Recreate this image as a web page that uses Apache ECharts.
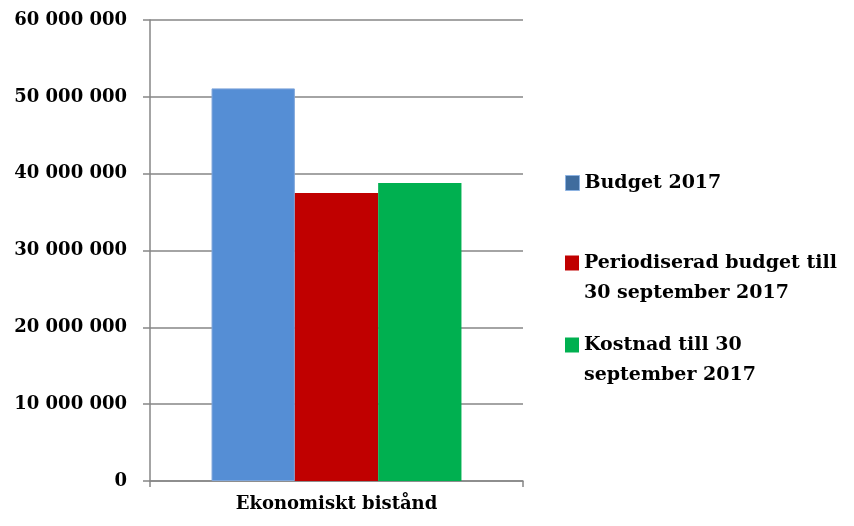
<!DOCTYPE html>
<html>
<head>
<meta charset="utf-8">
<script src="https://cdn.jsdelivr.net/npm/echarts@6/dist/echarts.min.js"></script>
<style>
html,body{margin:0;padding:0;background:#fff;}
#chart{width:854px;height:526px;}
</style>
</head>
<body>
<div id="chart"></div>
<script>
const categories = ['Ekonomiskt bistånd'];
const seriesNames = ['Budget 2017', 'Periodiserad budget till 30 september 2017', 'Kostnad till 30 september 2017'];
const legendLabels = ['Budget 2017', 'Periodiserad budget till\n30 september 2017', 'Kostnad till 30\nseptember 2017'];
const budget2017 = [51100000];
const periodiserad = [37500000];
const kostnad = [38800000];
const yTicks = { min: 0, max: 60000000, interval: 10000000 };

const FONT = 'DejaVu Serif';
const colors = ['#558ED5', '#C00000', '#00B050'];
const values = [budget2017, periodiserad, kostnad];

function fmt(v) { return String(v).replace(/\B(?=(\d{3})+(?!\d))/g, ' '); }

const legendTops = [163, 213, 295];
const legends = seriesNames.map((n, i) => ({
  orient: 'vertical',
  left: 560,
  top: legendTops[i],
  itemWidth: 14,
  itemHeight: 15,
  itemGap: 0,
  selectedMode: false,
  icon: 'rect',
  formatter: () => (i === 0 ? legendLabels[i] : '\n' + legendLabels[i]),
  textStyle: {
    fontFamily: FONT, fontWeight: 'bold', fontSize: 19, color: '#000', lineHeight: 30
  },
  data: [i === 0 ? { name: n, itemStyle: { color: '#3F6C9E', borderColor: '#8DB3E2', borderWidth: 1 } } : { name: n }]
}));

const chart = echarts.init(document.getElementById('chart'), null, { renderer: 'canvas' });
chart.setOption({
  animation: false,
  backgroundColor: '#fff',
  grid: { left: 150, right: 331, top: 20, bottom: 45, containLabel: false },
  legend: legends,
  xAxis: {
    type: 'category',
    data: categories,
    axisLine: { lineStyle: { color: '#868686', width: 1.5 } },
    axisTick: { show: true, length: 6, lineStyle: { color: '#868686', width: 1.5 } },
    axisLabel: { margin: 14, fontFamily: FONT, fontWeight: 'bold', fontSize: 18, color: '#000' }
  },
  yAxis: {
    type: 'value',
    min: yTicks.min, max: yTicks.max, interval: yTicks.interval,
    axisLine: { show: true, lineStyle: { color: '#868686', width: 1.5 } },
    axisTick: { show: true, length: 7, lineStyle: { color: '#868686', width: 1.5 } },
    splitLine: { lineStyle: { color: '#868686', width: 1.5 } },
    axisLabel: { margin: 23, fontFamily: FONT, fontWeight: 'bold', fontSize: 18, color: '#000', formatter: fmt }
  },
  series: seriesNames.map((n, i) => ({
    name: n,
    type: 'bar',
    data: values[i],
    barGap: '0%',
    barCategoryGap: '33%',
    itemStyle: i === 0 ? { color: colors[i], borderColor: '#7FA6DA', borderWidth: 1 } : { color: colors[i] }
  }))
});
</script>
</body>
</html>
